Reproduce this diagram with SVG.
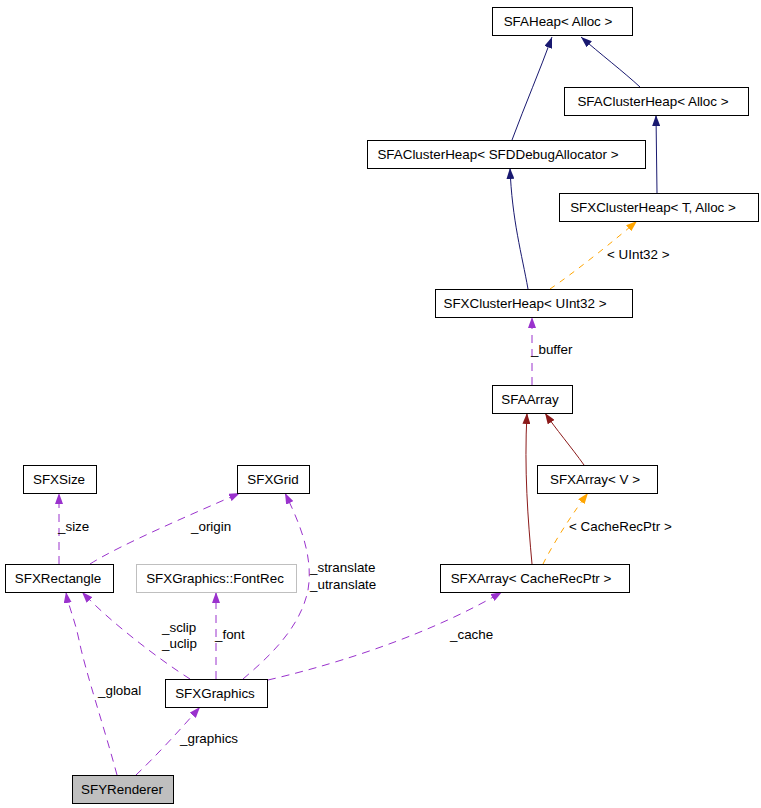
<svg xmlns="http://www.w3.org/2000/svg" width="761" height="808" viewBox="0 0 761 808">
<style>
  .box { fill: #ffffff; stroke: #000000; stroke-width: 1; }
  .gray { fill: #ffffff; stroke: #bfbfbf; stroke-width: 1; }
  .cur { fill: #bfbfbf; stroke: #000000; stroke-width: 1; }
  text { font-family: "Liberation Sans", Arial, sans-serif; font-size: 13.4px; fill: #000000; }
  .nt { text-anchor: middle; }
  .e { fill: none; stroke-width: 1; }
  .blue { stroke: #191970; marker-end: url(#ab); }
  .red { stroke: #8b1a1a; marker-end: url(#ar); }
  .orange { stroke: #ffa500; stroke-dasharray: 6,6; marker-end: url(#ao); }
  .purple { stroke: #9a32cd; stroke-dasharray: 8,6; marker-end: url(#ap); }
</style>
<defs>
  <marker id="ab" markerUnits="userSpaceOnUse" markerWidth="11" markerHeight="8" refX="11" refY="4" orient="auto"><path d="M0,0 L11,4 L0,8 z" fill="#191970"/></marker>
  <marker id="ar" markerUnits="userSpaceOnUse" markerWidth="11" markerHeight="8" refX="11" refY="4" orient="auto"><path d="M0,0 L11,4 L0,8 z" fill="#8b1a1a"/></marker>
  <marker id="ao" markerUnits="userSpaceOnUse" markerWidth="11" markerHeight="8" refX="11" refY="4" orient="auto"><path d="M0,0 L11,4 L0,8 z" fill="#ffa500"/></marker>
  <marker id="ap" markerUnits="userSpaceOnUse" markerWidth="11" markerHeight="8" refX="11" refY="4" orient="auto"><path d="M0,0 L11,4 L0,8 z" fill="#9a32cd"/></marker>
</defs>
<rect width="761" height="808" fill="#ffffff"/>
<g id="edges">
  <path class="e blue" d="M512,140 C525,105 540,70 552,37"/>
  <path class="e blue" d="M640,87 C625,73 598,52 581,37"/>
  <path class="e blue" d="M657,193 L656,115"/>
  <path class="e blue" d="M528,289 C522,255 512,220 510,168"/>
  <path class="e orange" d="M550,289 C575,272 615,240 637,221"/>
  <text x="607" y="259">&lt; UInt32 &gt;</text>
  <path class="e purple" d="M532,385 L532,317"/>
  <text x="531" y="354">_buffer</text>
  <path class="e red" d="M532,564 C528,520 524,470 527,413"/>
  <path class="e red" d="M584,465 C572,448 555,428 545,413"/>
  <path class="e orange" d="M543,564 C555,540 575,510 588,493"/>
  <text x="569" y="531">&lt; CacheRecPtr &gt;</text>
  <path class="e purple" d="M59,564 L59,493"/>
  <text x="58" y="531">_size</text>
  <path class="e purple" d="M90,564 C120,545 190,515 240,493"/>
  <text x="191" y="531">_origin</text>
  <path class="e purple" d="M243,679 C265,660 300,630 308,590 C314,555 298,520 285,493"/>
  <text x="310" y="572">_stranslate</text>
  <text x="310" y="589">_utranslate</text>
  <path class="e purple" d="M190,679 C160,660 110,622 82,592"/>
  <text x="162" y="632">_sclip</text>
  <text x="162" y="648">_uclip</text>
  <path class="e purple" d="M216,679 L216,592"/>
  <text x="215" y="639">_font</text>
  <path class="e purple" d="M268,680 C320,668 420,640 502,592"/>
  <text x="450" y="639">_cache</text>
  <path class="e purple" d="M117,775 C105,730 85,670 79,640 C75,620 68,605 66,592"/>
  <text x="98" y="695">_global</text>
  <path class="e purple" d="M136,775 C155,757 180,730 200,707"/>
  <text x="180" y="743">_graphics</text>
</g>
<g id="SFAHeap"><rect class="box" x="492.5" y="7.5" width="140" height="28"/><text class="nt" x="558" y="26">SFAHeap&lt; Alloc &gt;</text></g>
<g id="SFAClusterHeapAlloc"><rect class="box" x="564.5" y="87.5" width="184" height="28"/><text class="nt" x="653" y="106">SFAClusterHeap&lt; Alloc &gt;</text></g>
<g id="SFAClusterHeapDebug"><rect class="box" x="367.5" y="140.5" width="278" height="28"/><text class="nt" x="498" y="159">SFAClusterHeap&lt; SFDDebugAllocator &gt;</text></g>
<g id="SFXClusterHeapT"><rect class="box" x="559.5" y="193.5" width="199" height="28"/><text class="nt" x="653" y="212">SFXClusterHeap&lt; T, Alloc &gt;</text></g>
<g id="SFXClusterHeapUInt32"><rect class="box" x="435.5" y="289.5" width="197" height="28"/><text class="nt" x="525" y="308">SFXClusterHeap&lt; UInt32 &gt;</text></g>
<g id="SFAArray"><rect class="box" x="492.5" y="385.5" width="80" height="28"/><text class="nt" x="530" y="404">SFAArray</text></g>
<g id="SFXArrayV"><rect class="box" x="537.5" y="465.5" width="120" height="28"/><text class="nt" x="595" y="484">SFXArray&lt; V &gt;</text></g>
<g id="SFXArrayCacheRecPtr"><rect class="box" x="440.5" y="564.5" width="189" height="28"/><text class="nt" x="531" y="583">SFXArray&lt; CacheRecPtr &gt;</text></g>
<g id="SFXSize"><rect class="box" x="23.5" y="465.5" width="73" height="28"/><text class="nt" x="59" y="484">SFXSize</text></g>
<g id="SFXGrid"><rect class="box" x="237.5" y="465.5" width="72" height="28"/><text class="nt" x="273" y="484">SFXGrid</text></g>
<g id="SFXRectangle"><rect class="box" x="5.5" y="564.5" width="108" height="28"/><text class="nt" x="58" y="583">SFXRectangle</text></g>
<g id="FontRec"><rect class="gray" x="136.5" y="564.5" width="160" height="28"/><text class="nt" x="215" y="583">SFXGraphics::FontRec</text></g>
<g id="SFXGraphics"><rect class="box" x="165.5" y="679.5" width="102" height="28"/><text class="nt" x="215" y="698">SFXGraphics</text></g>
<g id="SFYRenderer"><rect class="cur" x="72.5" y="775.5" width="101" height="28"/><text class="nt" x="122" y="794">SFYRenderer</text></g>
</svg>
